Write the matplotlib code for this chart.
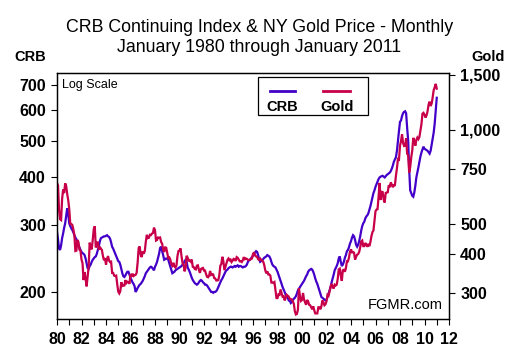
import numpy as np
import matplotlib
matplotlib.use("Agg")
import matplotlib.pyplot as plt
from matplotlib.ticker import FixedLocator, FixedFormatter, NullFormatter, NullLocator
from matplotlib.patches import Rectangle
from matplotlib.lines import Line2D

plt.rcParams['font.family'] = ['Liberation Sans', 'DejaVu Sans']

# monthly values, Jan 1980 .. Jan 2011
start_year = 1980

crb = [
    288, 275, 260, 258, 265, 277, 285, 295, 303, 318, 332, 320,  # 1980
    303, 298, 294, 291, 287, 282, 278, 275, 270, 266, 262, 258,  # 1981
    255, 253, 252, 250, 245, 238, 231, 230, 234, 236, 240, 243,  # 1982
    245, 247, 248, 252, 258, 264, 272, 277, 278, 279, 280, 280,  # 1983
    281, 282, 280, 279, 276, 270, 263, 260, 256, 252, 248, 244,  # 1984
    241, 240, 236, 230, 224, 220, 219, 221, 224, 226, 226, 222,  # 1985
    218, 215, 212, 210, 207, 200, 202, 205, 207, 209, 210, 212,  # 1986
    214, 217, 220, 224, 226, 228, 230, 232, 233, 232, 230, 228,  # 1987
    233, 236, 240, 246, 252, 261, 263, 256, 250, 243, 244, 245,  # 1988
    245, 243, 238, 233, 228, 224, 225, 226, 228, 229, 230, 231,  # 1989
    232, 233, 234, 236, 238, 241, 243, 240, 232, 229, 226, 222,  # 1990
    218, 215, 213, 211, 210, 209, 210, 212, 214, 215, 214, 212,  # 1991
    211, 209, 209, 208, 206, 204, 202, 200, 200, 199, 200, 200,  # 1992
    201, 203, 206, 209, 212, 215, 217, 220, 223, 226, 228, 229,  # 1993
    231, 232, 233, 233, 232, 233, 234, 233, 234, 235, 233, 234,  # 1994
    234, 233, 232, 233, 233, 234, 236, 240, 242, 243, 245, 247,  # 1995
    249, 252, 254, 256, 255, 250, 244, 240, 241, 242, 244, 246,  # 1996
    247, 248, 250, 249, 248, 245, 240, 236, 234, 233, 232, 229,  # 1997
    226, 222, 218, 214, 210, 206, 203, 200, 197, 195, 193, 190,  # 1998
    190, 187, 188, 190, 192, 193, 195, 198, 202, 204, 206, 208,  # 1999
    210, 212, 214, 217, 220, 222, 226, 228, 229, 230, 229, 226,  # 2000
    222, 217, 213, 210, 206, 202, 198, 194, 193, 192, 191, 190,  # 2001
    191, 194, 198, 202, 206, 212, 217, 222, 228, 231, 234, 238,  # 2002
    245, 248, 240, 234, 236, 240, 246, 250, 256, 258, 262, 268,  # 2003
    272, 278, 282, 280, 274, 266, 263, 266, 272, 280, 290, 298,  # 2004
    303, 306, 312, 316, 318, 322, 329, 336, 345, 355, 364, 370,  # 2005
    378, 384, 390, 396, 400, 402, 403, 404, 402, 400, 403, 406,  # 2006
    408, 410, 412, 416, 422, 430, 440, 446, 452, 470, 500, 530,  # 2007
    560, 565, 580, 590, 595, 597, 590, 540, 500, 420, 370, 364,  # 2008
    358, 356, 365, 380, 400, 412, 425, 440, 454, 465, 474, 482,  # 2009
    476, 474, 472, 470, 466, 462, 470, 488, 505, 525, 555, 600,  # 2010
    648,                                                         # 2011
]

gold = [
    675, 665, 554, 517, 514, 600, 644, 627, 674, 661, 623, 595,  # 1980
    557, 500, 499, 496, 480, 461, 409, 410, 444, 437, 413, 410,  # 1981
    384, 374, 330, 350, 334, 315, 339, 364, 435, 422, 414, 444,  # 1982
    481, 491, 420, 432, 438, 413, 422, 416, 412, 394, 382, 388,  # 1983
    370, 386, 394, 381, 377, 378, 348, 348, 341, 340, 341, 320,  # 1984
    303, 299, 304, 325, 316, 317, 317, 330, 323, 326, 325, 321,  # 1985
    345, 339, 346, 340, 342, 343, 348, 376, 418, 423, 398, 391,  # 1986
    408, 401, 409, 438, 461, 450, 451, 461, 460, 465, 467, 486,  # 1987
    477, 442, 444, 452, 451, 452, 437, 432, 413, 406, 420, 419,  # 1988
    404, 388, 390, 384, 371, 367, 375, 365, 362, 367, 394, 409,  # 1989
    410, 417, 393, 374, 369, 352, 362, 395, 389, 381, 381, 378,  # 1990
    384, 364, 363, 358, 357, 367, 368, 356, 348, 358, 360, 361,  # 1991
    354, 354, 345, 338, 337, 341, 353, 343, 345, 344, 335, 334,  # 1992
    329, 329, 330, 342, 367, 372, 392, 379, 355, 364, 374, 383,  # 1993
    387, 382, 384, 377, 381, 386, 385, 380, 391, 389, 384, 379,  # 1994
    379, 377, 382, 391, 385, 387, 386, 383, 383, 383, 386, 387,  # 1995
    400, 405, 396, 393, 392, 385, 383, 387, 383, 381, 378, 369,  # 1996
    355, 347, 352, 344, 344, 341, 324, 324, 323, 325, 306, 289,  # 1997
    289, 297, 296, 308, 300, 292, 293, 284, 289, 296, 294, 292,  # 1998
    287, 287, 286, 282, 277, 262, 256, 257, 265, 311, 293, 283,  # 1999
    285, 300, 286, 280, 275, 285, 282, 275, 274, 270, 266, 272,  # 2000
    264, 258, 258, 258, 270, 270, 266, 272, 284, 280, 274, 276,  # 2001
    282, 296, 294, 303, 314, 321, 314, 310, 319, 317, 319, 333,  # 2002
    357, 359, 341, 328, 355, 356, 351, 360, 379, 379, 389, 407,  # 2003
    414, 405, 406, 404, 384, 392, 398, 400, 406, 420, 439, 442,  # 2004
    424, 424, 434, 429, 422, 431, 424, 437, 456, 470, 476, 510,  # 2005
    549, 555, 557, 610, 676, 596, 633, 632, 598, 585, 628, 629,  # 2006
    631, 665, 655, 679, 667, 655, 665, 665, 712, 754, 806, 803,  # 2007
    889, 922, 968, 909, 888, 890, 940, 839, 829, 730, 760, 816,  # 2008
    858, 943, 925, 890, 928, 945, 934, 949, 996, 1043, 1127, 1134,  # 2009
    1118, 1095, 1113, 1148, 1205, 1232, 1193, 1215, 1271, 1342, 1370, 1405,  # 2010
    1356,                                                        # 2011
]

crb_ticks = [200, 300, 400, 500, 600, 700]
gold_ticks = [300, 400, 500, 750, 1000, 1500]
gold_tick_labels = ['300', '400', '500', '750', '1,000', '1,500']
year_ticks = list(range(1980, 2013, 2))
year_labels = [f"{y % 100:02d}" for y in year_ticks]

crb_color = '#4200C8'
gold_color = '#C8004A'

W, H = 519, 363
fig = plt.figure(figsize=(W / 100, H / 100), dpi=100)
fig.patch.set_facecolor('white')

# plot frame in pixels: x 57..449, y 73..319
ax = fig.add_axes([57 / W, (H - 319) / H, 392 / W, 246 / H])

t = start_year + np.arange(len(crb)) / 12.0
tg = start_year + np.arange(len(gold)) / 12.0

ax.plot(t, crb, color=crb_color, lw=1.6, solid_joinstyle='miter')
ax.set_yscale('log')
ax.set_ylim(169.8, 752.8)
ax.set_xlim(1980, 2012)

ax.yaxis.set_major_locator(FixedLocator(crb_ticks))
ax.yaxis.set_major_formatter(FixedFormatter([str(v) for v in crb_ticks]))
ax.yaxis.set_minor_locator(NullLocator())
ax.yaxis.set_minor_formatter(NullFormatter())

ax.set_xticks(year_ticks)
ax.set_xticklabels(year_labels)
ax.set_xticks(range(1980, 2013), minor=True)

ax2 = ax.twinx()
ax2.plot(tg, gold, color=gold_color, lw=1.6, solid_joinstyle='miter')
ax2.set_yscale('log')
ax2.set_ylim(247.6, 1522)
ax2.yaxis.set_major_locator(FixedLocator(gold_ticks))
ax2.yaxis.set_major_formatter(FixedFormatter(gold_tick_labels))
ax2.yaxis.set_minor_locator(NullLocator())
ax2.yaxis.set_minor_formatter(NullFormatter())

for a in (ax, ax2):
    for s in a.spines.values():
        s.set_linewidth(0.9)
        s.set_color('black')
    a.tick_params(which='both', length=4, width=0.8, direction='out', pad=4)
ax.tick_params(axis='x', which='both', pad=5)
for lab in ax.get_xticklabels() + ax.get_yticklabels() + ax2.get_yticklabels():
    lab.set_fontsize(11.5)
    lab.set_fontweight('bold')

# titles
fig.text(0.5, 1 - 27 / H, 'CRB Continuing Index & NY Gold Price - Monthly',
         ha='center', va='center', fontsize=12.8)
fig.text(0.5, 1 - 47 / H, 'January 1980 through January 2011',
         ha='center', va='center', fontsize=12.8)
fig.text(30 / W, 1 - 57 / H, 'CRB', ha='center', va='center',
         fontsize=10.5, fontweight='bold')
fig.text(488 / W, 1 - 57 / H, 'Gold', ha='center', va='center',
         fontsize=10.5, fontweight='bold')

ax.text(0.013, 0.951, 'Log Scale', transform=ax.transAxes,
        ha='left', va='center', fontsize=9)
ax.text(0.985, 0.057, 'FGMR.com', transform=ax.transAxes,
        ha='right', va='center', fontsize=10.5)

# legend box: line above label
ax2.add_patch(Rectangle((0.513, 0.829), 0.28, 0.155, transform=ax2.transAxes,
                        facecolor='white', edgecolor='black', lw=0.9, zorder=5))
ax2.add_line(Line2D([0.543, 0.607], [0.928, 0.928], transform=ax2.transAxes,
                    color=crb_color, lw=2, zorder=6))
ax2.add_line(Line2D([0.679, 0.747], [0.928, 0.928], transform=ax2.transAxes,
                    color=gold_color, lw=2, zorder=6))
ax2.text(0.574, 0.863, 'CRB', transform=ax2.transAxes, ha='center', va='center',
         fontsize=10.5, fontweight='bold', zorder=6)
ax2.text(0.714, 0.863, 'Gold', transform=ax2.transAxes, ha='center', va='center',
         fontsize=10.5, fontweight='bold', zorder=6)

fig.savefig('out.png', dpi=100)
